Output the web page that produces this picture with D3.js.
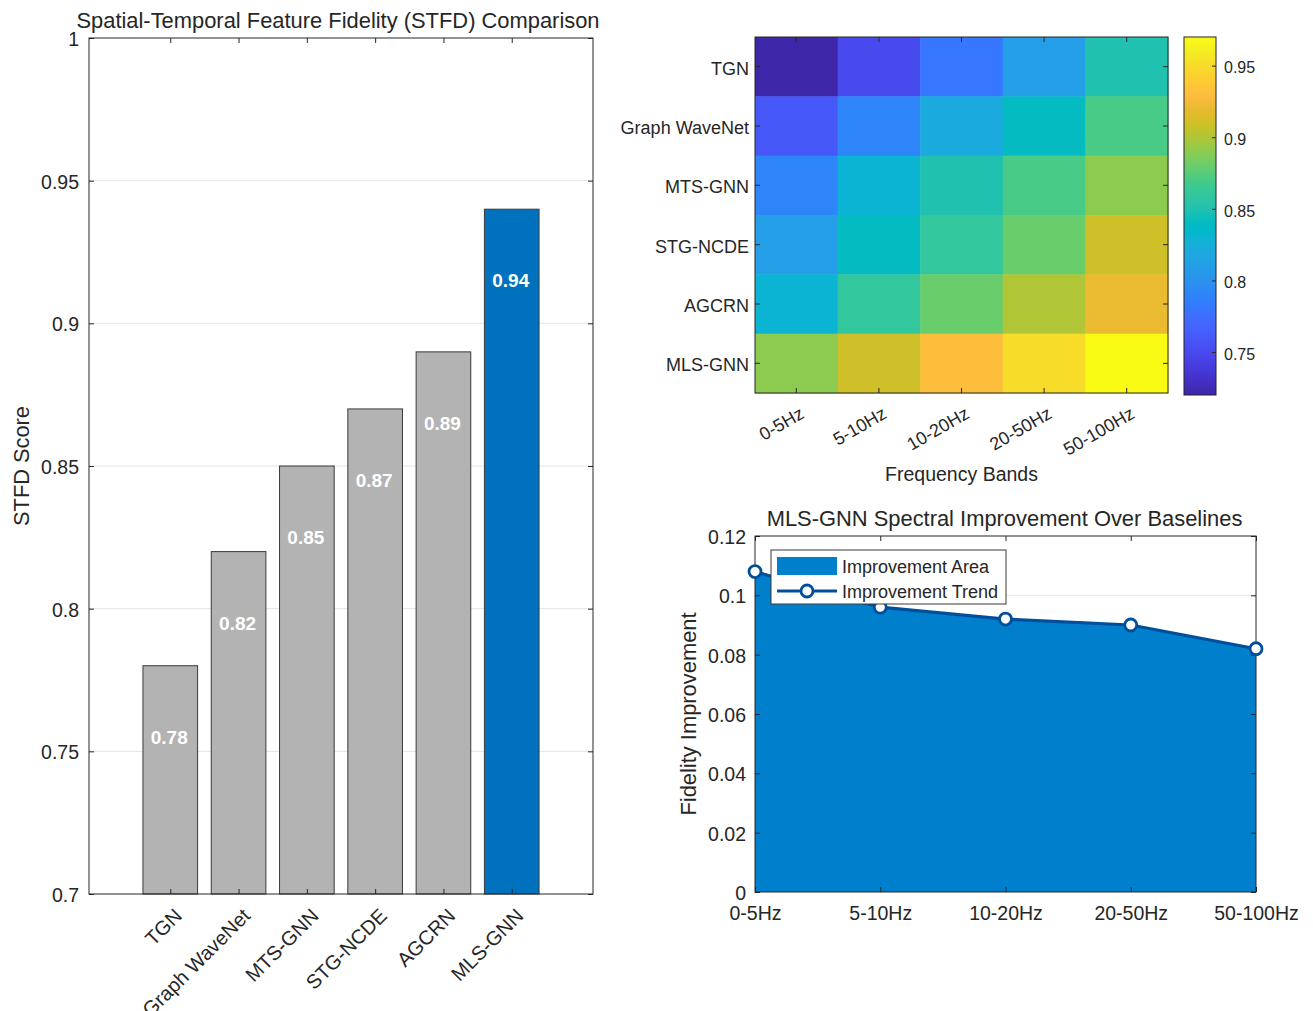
<!DOCTYPE html>
<html>
<head>
<meta charset="utf-8">
<script src="https://cdn.jsdelivr.net/npm/d3@7"></script>
<style>
  html, body { margin: 0; padding: 0; background: #ffffff; }
  svg { display: block; }
  text { font-family: "Liberation Sans", Arial, Helvetica, sans-serif; fill: #262626; }
</style>
</head>
<body>
<svg id="fig" width="1313" height="1011"></svg>
<script>
// ---- data -------------------------------------------------------------
const models = ["TGN", "Graph WaveNet", "MTS-GNN", "STG-NCDE", "AGCRN", "MLS-GNN"];
const stfdScores = [0.78, 0.82, 0.85, 0.87, 0.89, 0.94];
const stfdTicks = [0.7, 0.75, 0.8, 0.85, 0.9, 0.95, 1];

const bands = ["0-5Hz", "5-10Hz", "10-20Hz", "20-50Hz", "50-100Hz"];
const fidelityTGN        = [0.72, 0.75, 0.78, 0.81, 0.85];
const fidelityGraphWN    = [0.76, 0.79, 0.82, 0.84, 0.87];
const fidelityMTSGNN     = [0.79, 0.83, 0.85, 0.87, 0.89];
const fidelitySTGNCDE    = [0.81, 0.84, 0.86, 0.88, 0.91];
const fidelityAGCRN      = [0.83, 0.86, 0.88, 0.90, 0.92];
const fidelityMLSGNN     = [0.89, 0.91, 0.93, 0.95, 0.97];
const colorLimits = [0.72, 0.97];
const colorbarTicks = [0.75, 0.8, 0.85, 0.9, 0.95];

const improvement = [0.108, 0.096, 0.092, 0.090, 0.082];
const improvementTicks = [0, 0.02, 0.04, 0.06, 0.08, 0.1, 0.12];

const fidelityRows = [fidelityTGN, fidelityGraphWN, fidelityMTSGNN,
                      fidelitySTGNCDE, fidelityAGCRN, fidelityMLSGNN];

// parula colormap (64 entries)
const parula = [
[0.2422,0.1504,0.6603],[0.2504,0.1650,0.7076],[0.2578,0.1818,0.7511],[0.2647,0.1978,0.7952],
[0.2706,0.2147,0.8364],[0.2751,0.2342,0.8710],[0.2783,0.2559,0.8991],[0.2803,0.2782,0.9221],
[0.2813,0.3006,0.9414],[0.2810,0.3228,0.9579],[0.2795,0.3447,0.9717],[0.2760,0.3667,0.9829],
[0.2699,0.3892,0.9906],[0.2602,0.4123,0.9952],[0.2440,0.4358,0.9988],[0.2206,0.4603,0.9973],
[0.1963,0.4847,0.9892],[0.1834,0.5074,0.9798],[0.1786,0.5289,0.9682],[0.1764,0.5499,0.9520],
[0.1687,0.5703,0.9359],[0.1540,0.5902,0.9218],[0.1460,0.6091,0.9079],[0.1380,0.6276,0.8973],
[0.1248,0.6459,0.8883],[0.1113,0.6635,0.8763],[0.0952,0.6798,0.8598],[0.0689,0.6948,0.8394],
[0.0297,0.7082,0.8163],[0.0036,0.7197,0.7917],[0.0067,0.7312,0.7660],[0.0433,0.7411,0.7394],
[0.0964,0.7500,0.7120],[0.1408,0.7584,0.6842],[0.1717,0.7670,0.6554],[0.1938,0.7758,0.6251],
[0.2161,0.7843,0.5923],[0.2470,0.7918,0.5567],[0.2906,0.7973,0.5188],[0.3406,0.8008,0.4789],
[0.3909,0.8029,0.4354],[0.4456,0.8024,0.3909],[0.5044,0.7993,0.3480],[0.5616,0.7942,0.3045],
[0.6174,0.7876,0.2612],[0.6720,0.7793,0.2227],[0.7242,0.7698,0.1910],[0.7738,0.7598,0.1646],
[0.8203,0.7498,0.1535],[0.8634,0.7406,0.1596],[0.9035,0.7330,0.1774],[0.9393,0.7288,0.2100],
[0.9728,0.7298,0.2394],[0.9956,0.7434,0.2371],[0.9970,0.7659,0.2199],[0.9952,0.7893,0.2028],
[0.9892,0.8136,0.1885],[0.9786,0.8386,0.1766],[0.9676,0.8639,0.1643],[0.9610,0.8890,0.1537],
[0.9597,0.9135,0.1423],[0.9628,0.9373,0.1265],[0.9691,0.9606,0.1064],[0.9769,0.9839,0.0805]
].map(c => d3.rgb(c[0] * 255, c[1] * 255, c[2] * 255).formatHex());

// ---- shared style -----------------------------------------------------
const AXIS = "#262626";
const GRID = "#e3e3e3";
const fmt = d => String(+d.toFixed(3));
const svg = d3.select("#fig");

function styleAxis(g, size, dy) {
  g.select(".domain").remove();
  g.selectAll(".tick line").attr("stroke", AXIS).attr("stroke-width", 1);
  const t = g.selectAll(".tick text").attr("fill", AXIS).style("font-size", size + "px");
  if (dy !== undefined) t.attr("dy", dy);
}

// =======================================================================
// 1) STFD bar chart
// =======================================================================
{
  const L = 89, R = 593, T = 38, B = 894;
  const x = d3.scaleLinear().domain([-1.19, 6.19]).range([L, R]);
  const y = d3.scaleLinear().domain([0.7, 1]).range([B, T]);
  const barW = x(0.8) - x(0);
  const g = svg.append("g");

  // horizontal grid
  g.append("g").selectAll("line").data(stfdTicks.slice(1, -1)).join("line")
    .attr("x1", L).attr("x2", R).attr("y1", d => y(d)).attr("y2", d => y(d))
    .attr("stroke", GRID).attr("stroke-width", 1);

  // bars
  g.append("g").selectAll("rect").data(stfdScores).join("rect")
    .attr("x", (d, i) => x(i) - barW / 2)
    .attr("width", barW)
    .attr("y", d => y(d))
    .attr("height", d => y(0.7) - y(d))
    .attr("fill", (d, i) => i === models.length - 1 ? "#0072bd" : "#b3b3b3")
    .attr("stroke", "#3a3a3a").attr("stroke-width", 1);

  // value labels inside bars
  g.append("g").selectAll("text").data(stfdScores).join("text")
    .attr("x", (d, i) => x(i) - 1)
    .attr("y", d => y(d - 0.025))
    .attr("dy", "0.35em")
    .attr("text-anchor", "middle")
    .style("font-size", "19px").style("font-weight", "bold")
    .style("fill", "#ffffff")
    .text(d => d.toFixed(2));

  // axes (ticks pointing inward, mirrored on top/right)
  const idx = d3.range(models.length);
  const ax = g.append("g").attr("transform", `translate(0,${B})`)
    .call(d3.axisBottom(x).tickValues(idx).tickSize(-5).tickFormat(""));
  styleAxis(ax, 20);
  const axTop = g.append("g").attr("transform", `translate(0,${T})`)
    .call(d3.axisTop(x).tickValues(idx).tickSize(-5).tickFormat(""));
  styleAxis(axTop, 20);
  const ay = g.append("g").attr("transform", `translate(${L},0)`)
    .call(d3.axisLeft(y).tickValues(stfdTicks).tickSize(-5).tickPadding(10).tickFormat(fmt));
  styleAxis(ay, 19.5, "0.38em");
  const ayR = g.append("g").attr("transform", `translate(${R},0)`)
    .call(d3.axisRight(y).tickValues(stfdTicks).tickSize(-5).tickFormat(""));
  styleAxis(ayR, 19.5);

  g.append("rect").attr("x", L).attr("y", T).attr("width", R - L).attr("height", B - T)
    .attr("fill", "none").attr("stroke", AXIS).attr("stroke-width", 1);

  // rotated category labels
  g.append("g").selectAll("text").data(models).join("text")
    .attr("transform", (d, i) => `translate(${x(i) + 13},${B + 23}) rotate(-45)`)
    .attr("text-anchor", "end")
    .style("font-size", "20px")
    .text(d => d);

  g.append("text")
    .attr("transform", `translate(29,${(T + B) / 2}) rotate(-90)`)
    .attr("text-anchor", "middle")
    .style("font-size", "21.8px")
    .text("STFD Score");

  g.append("text")
    .attr("x", (L + R) / 2 - 3).attr("y", 28)
    .attr("text-anchor", "middle")
    .style("font-size", "21.9px")
    .text("Spatial-Temporal Feature Fidelity (STFD) Comparison");
}

// =======================================================================
// 2) Frequency-band heatmap with colorbar
// =======================================================================
{
  const L = 755, R = 1168, T = 37, B = 393;
  const x = d3.scaleBand().domain(bands).range([L, R]);
  const y = d3.scaleBand().domain(models).range([T, B]);
  const color = d3.scaleSequential(d3.interpolateRgbBasis(parula)).domain(colorLimits);
  const g = svg.append("g");

  const cells = [];
  fidelityRows.forEach((row, r) => row.forEach((v, c) => cells.push({ m: models[r], b: bands[c], v })));

  g.append("g").selectAll("rect").data(cells).join("rect")
    .attr("x", d => x(d.b)).attr("y", d => y(d.m))
    .attr("width", x.bandwidth() + 0.5).attr("height", y.bandwidth() + 0.5)
    .attr("fill", d => color(d.v));

  const axB = g.append("g").attr("transform", `translate(0,${B})`)
    .call(d3.axisBottom(x).tickSize(-5).tickFormat(""));
  styleAxis(axB, 18);
  const axT = g.append("g").attr("transform", `translate(0,${T})`)
    .call(d3.axisTop(x).tickSize(-5).tickFormat(""));
  styleAxis(axT, 18);
  const ayL = g.append("g").attr("transform", `translate(${L},0)`)
    .call(d3.axisLeft(y).tickSize(-5).tickPadding(6));
  styleAxis(ayL, 18, "0.45em");
  const ayR = g.append("g").attr("transform", `translate(${R},0)`)
    .call(d3.axisRight(y).tickSize(-5).tickFormat(""));
  styleAxis(ayR, 18);

  g.append("rect").attr("x", L).attr("y", T).attr("width", R - L).attr("height", B - T)
    .attr("fill", "none").attr("stroke", AXIS).attr("stroke-width", 1);

  g.append("g").selectAll("text").data(bands).join("text")
    .attr("transform", d => `translate(${x(d) + x.bandwidth() / 2 + 9},${B + 24}) rotate(-30)`)
    .attr("text-anchor", "end")
    .style("font-size", "18px")
    .text(d => d);

  g.append("text")
    .attr("x", (L + R) / 2).attr("y", 481)
    .attr("text-anchor", "middle")
    .style("font-size", "19.5px")
    .text("Frequency Bands");

  // colorbar
  const cL = 1184, cR = 1216, cT = 37, cB = 395;
  const cy = d3.scaleLinear().domain(colorLimits).range([cB, cT]);
  const grad = svg.append("defs").append("linearGradient")
    .attr("id", "parulaGrad").attr("x1", 0).attr("y1", 1).attr("x2", 0).attr("y2", 0);
  grad.selectAll("stop").data(parula).join("stop")
    .attr("offset", (d, i) => i / (parula.length - 1))
    .attr("stop-color", d => d);
  g.append("rect").attr("x", cL).attr("y", cT).attr("width", cR - cL).attr("height", cB - cT)
    .attr("fill", "url(#parulaGrad)").attr("stroke", AXIS).attr("stroke-width", 1);
  const cax = g.append("g").attr("transform", `translate(${cR},0)`)
    .call(d3.axisRight(cy).tickValues(colorbarTicks).tickSize(-4).tickPadding(8).tickFormat(fmt));
  styleAxis(cax, 16, "0.45em");
}

// =======================================================================
// 3) Spectral improvement area + trend line
// =======================================================================
{
  const L = 755, R = 1256, T = 536, B = 892;
  const x = d3.scalePoint().domain(bands).range([L, R]);
  const y = d3.scaleLinear().domain([0, 0.12]).range([B, T]);
  const g = svg.append("g");
  const AREA = "#007fcc", LINE = "#004f9b";

  g.append("g").selectAll("line").data(improvementTicks.slice(1, -1)).join("line")
    .attr("x1", L).attr("x2", R).attr("y1", d => y(d)).attr("y2", d => y(d))
    .attr("stroke", GRID).attr("stroke-width", 1);

  const pts = bands.map((b, i) => ({ b, v: improvement[i] }));
  g.append("path").datum(pts)
    .attr("d", d3.area().x(d => x(d.b)).y0(y(0)).y1(d => y(d.v)))
    .attr("fill", AREA);

  g.append("path").datum(pts)
    .attr("d", d3.line().x(d => x(d.b)).y(d => y(d.v)))
    .attr("fill", "none").attr("stroke", LINE).attr("stroke-width", 3.2)
    .attr("stroke-linejoin", "round");

  const axB = g.append("g").attr("transform", `translate(0,${B})`)
    .call(d3.axisBottom(x).tickSize(-5).tickPadding(14));
  styleAxis(axB, 19.5);
  const axT = g.append("g").attr("transform", `translate(0,${T})`)
    .call(d3.axisTop(x).tickSize(-5).tickFormat(""));
  styleAxis(axT, 19.5);
  const ayL = g.append("g").attr("transform", `translate(${L},0)`)
    .call(d3.axisLeft(y).tickValues(improvementTicks).tickSize(-5).tickPadding(9).tickFormat(fmt));
  styleAxis(ayL, 19.5, "0.38em");
  const ayR = g.append("g").attr("transform", `translate(${R},0)`)
    .call(d3.axisRight(y).tickValues(improvementTicks).tickSize(-5).tickFormat(""));
  styleAxis(ayR, 19.5);

  g.append("rect").attr("x", L).attr("y", T).attr("width", R - L).attr("height", B - T)
    .attr("fill", "none").attr("stroke", AXIS).attr("stroke-width", 1);

  g.append("g").selectAll("circle").data(pts).join("circle")
    .attr("cx", d => x(d.b)).attr("cy", d => y(d.v)).attr("r", 6)
    .attr("fill", "#ffffff").attr("stroke", LINE).attr("stroke-width", 2.8);

  g.append("text")
    .attr("transform", `translate(696,${(T + B) / 2}) rotate(-90)`)
    .attr("text-anchor", "middle")
    .style("font-size", "21.9px")
    .text("Fidelity Improvement");

  g.append("text")
    .attr("x", (L + R) / 2 - 1).attr("y", 526)
    .attr("text-anchor", "middle")
    .style("font-size", "21.9px")
    .text("MLS-GNN Spectral Improvement Over Baselines");

  // legend
  const lg = g.append("g").attr("transform", "translate(771,550)");
  lg.append("rect").attr("width", 235).attr("height", 54)
    .attr("fill", "#ffffff").attr("stroke", "#3a3a3a").attr("stroke-width", 1);
  lg.append("rect").attr("x", 6).attr("y", 7).attr("width", 60).attr("height", 18).attr("fill", AREA);
  lg.append("text").attr("x", 71).attr("y", 23).style("font-size", "18px").text("Improvement Area");
  lg.append("line").attr("x1", 6).attr("x2", 66).attr("y1", 41).attr("y2", 41)
    .attr("stroke", LINE).attr("stroke-width", 3.2);
  lg.append("circle").attr("cx", 36).attr("cy", 41).attr("r", 6)
    .attr("fill", "#ffffff").attr("stroke", LINE).attr("stroke-width", 2.8);
  lg.append("text").attr("x", 71).attr("y", 48).style("font-size", "18px").text("Improvement Trend");
}
</script>
</body>
</html>
